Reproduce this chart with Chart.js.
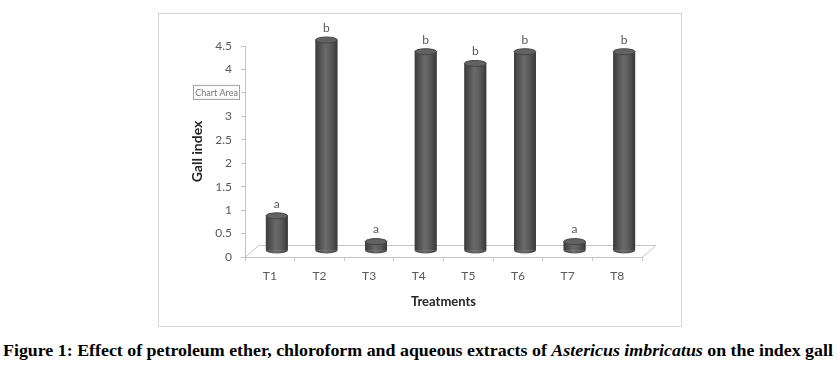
<!DOCTYPE html>
<html>
<head>
<meta charset="utf-8">
<script src="https://cdn.jsdelivr.net/npm/chart.js@4.4.1/dist/chart.umd.min.js"></script>
<style>
  body { margin: 0; background: #fff; width: 839px; height: 381px; overflow: hidden; position: relative; }
  #box { position: absolute; left: 158px; top: 13px; width: 522px; height: 312px; border: 1px solid #d4d4d4; }
  #caption { position: absolute; left: 3px; top: 342px; white-space: nowrap; font: bold 16px "Liberation Serif", serif; color: #000; transform-origin: 0 0; }
</style>
</head>
<body>
<div id="box"><canvas id="chart" width="522" height="312"></canvas></div>
<div id="caption">Figure 1: Effect of petroleum ether, chloroform and aqueous extracts of <i>Astericus imbricatus</i> on the index gall</div>
<script>
const treatments = ['T1', 'T2', 'T3', 'T4', 'T5', 'T6', 'T7', 'T8'];
const gallIndex = [0.75, 4.5, 0.2, 4.25, 4.0, 4.25, 0.2, 4.25];
const groups = ['a', 'b', 'a', 'b', 'b', 'b', 'a', 'b'];

// depth of the 3D floor (full), bars sit halfway in
const depthX = 14, depthY = 12;

const cylinders = {
  id: 'cylinders',
  beforeDatasetsDraw(chart) {
    const { ctx, chartArea: a } = chart;
    ctx.save();
    ctx.strokeStyle = '#c4c4c4';
    ctx.lineWidth = 1;
    ctx.beginPath();
    ctx.moveTo(a.left, a.bottom + 0.5);
    ctx.lineTo(a.left + depthX, a.bottom - depthY + 0.5);
    ctx.lineTo(a.right + depthX, a.bottom - depthY + 0.5);
    ctx.lineTo(a.right, a.bottom + 0.5);
    ctx.stroke();
    ctx.restore();
    ctx.save();
    ctx.translate(depthX / 2, -depthY / 2);
  },
  afterDatasetsDraw(chart) {
    const ctx = chart.ctx;
    const meta = chart.getDatasetMeta(0);
    const ry = 3;
    meta.data.forEach((bar, i) => {
      const w = bar.width, l = bar.x - w / 2, r = bar.x + w / 2;
      const g = ctx.createLinearGradient(l, 0, r, 0);
      g.addColorStop(0, '#3c3c3c');
      g.addColorStop(0.45, '#6a6a6a');
      g.addColorStop(0.7, '#5a5a5a');
      g.addColorStop(1, '#383838');
      ctx.fillStyle = g;
      ctx.fillRect(l, bar.y, w, bar.base - bar.y);
      ctx.beginPath();
      ctx.ellipse(bar.x, bar.base, w / 2, ry, 0, 0, Math.PI);
      ctx.fill();
      ctx.fillStyle = '#626262';
      ctx.strokeStyle = '#444';
      ctx.beginPath();
      ctx.ellipse(bar.x, bar.y, w / 2, ry, 0, 0, Math.PI * 2);
      ctx.fill();
      ctx.stroke();
      ctx.fillStyle = '#595959';
      ctx.font = '12px Lato';
      ctx.textAlign = 'center';
      ctx.textBaseline = 'middle';
      ctx.fillText(groups[i], bar.x, bar.y - 12);
    });
    ctx.restore();
  },
  afterDraw(chart) {
    // the "Chart Area" hover label seen in the screenshot
    const ctx = chart.ctx;
    const y = chart.scales.y.getPixelForValue(3.5);
    ctx.save();
    ctx.fillStyle = '#fbfbfb';
    ctx.strokeStyle = '#a0a0a0';
    ctx.fillRect(34.5, y - 7.5, 46, 14);
    ctx.strokeRect(34.5, y - 7.5, 46, 14);
    ctx.fillStyle = '#777';
    ctx.font = '9px Lato';
    ctx.textAlign = 'center';
    ctx.textBaseline = 'middle';
    ctx.fillText('Chart Area', 57.5, y);
    ctx.restore();
  }
};

new Chart(document.getElementById('chart'), {
  type: 'bar',
  data: {
    labels: treatments,
    datasets: [{
      data: gallIndex,
      backgroundColor: '#4d4d4d',
      barPercentage: 0.44,
      categoryPercentage: 1,
      clip: false
    }]
  },
  options: {
    responsive: false,
    animation: false,
    layout: { padding: { left: 0, top: 32, right: 39, bottom: 0 } },
    plugins: { legend: { display: false }, tooltip: { enabled: false } },
    scales: {
      x: {
        grid: { drawOnChartArea: false, drawTicks: true, tickLength: 4, color: '#c4c4c4' },
        border: { display: true, color: '#c4c4c4' },
        ticks: { color: '#595959', font: { family: 'Lato', size: 12 }, padding: 8 },
        title: { display: true, text: 'Treatments', color: '#262626', font: { family: 'Lato', size: 13, weight: 'bold' }, padding: { top: 16, bottom: 16 } },
        afterFit(scale) { scale.height = 69; }
      },
      y: {
        min: 0,
        max: 4.5,
        ticks: { stepSize: 0.5, color: '#595959', font: { family: 'Lato', size: 12 }, padding: 9, callback: v => String(v) },
        grid: { drawOnChartArea: false, drawTicks: true, tickLength: 4, color: '#c4c4c4' },
        border: { display: true, color: '#c4c4c4' },
        title: { display: true, text: 'Gall index', color: '#262626', font: { family: 'Lato', size: 14, weight: 'bold' }, padding: { top: 30, bottom: 30 } },
        afterFit(scale) { scale.width = 86; }
      }
    }
  },
  plugins: [cylinders]
});

// stretch the caption to the width it takes in the figure
const cap = document.getElementById('caption');
cap.style.transform = 'scaleX(' + (830 / cap.offsetWidth) + ')';
</script>
</body>
</html>
